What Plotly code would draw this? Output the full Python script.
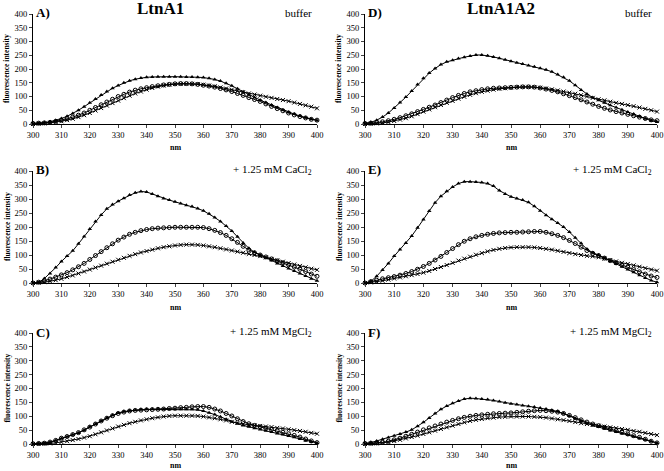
import plotly.graph_objects as go

wavelength = list(range(300, 401, 2))

# Panel A: LtnA1, buffer
A_tri = [2,3,5,8,13,20,28,38,50,63,77,91,105,118,130,140,150,157,163,167,170,171,172,172,172,172,172,171,171,170,169,166,162,156,148,139,128,117,106,96,87,78,69,60,51,43,36,29,23,17,13]
A_circ = [2,3,4,6,10,14,19,25,32,40,50,60,70,80,90,100,108,116,123,128,132,136,139,142,144,146,147,147,146,144,141,138,134,129,124,118,111,104,96,89,82,73,64,56,48,40,33,27,22,17,14]
A_x = [0,1,2,4,7,10,14,19,25,32,40,49,58,67,76,85,94,103,111,118,125,131,136,140,143,145,146,146,146,145,143,140,137,133,129,125,121,116,111,107,103,99,95,91,87,83,78,73,68,63,57]

# Panel B: LtnA1, + CaCl2
B_tri = [0,2,16,34,55,77,96,115,140,166,193,220,243,265,280,292,303,314,322,327,325,318,310,302,296,290,284,278,273,266,258,247,234,220,204,186,165,143,124,110,100,90,80,70,61,52,43,34,25,15,8]
B_circ = [0,3,8,14,21,29,37,47,58,70,84,98,112,126,140,153,164,174,181,187,191,194,196,197,198,199,199,199,199,199,198,194,188,180,170,158,145,131,118,108,100,93,86,79,72,65,57,49,41,32,24]
B_x = [0,1,3,6,10,15,21,27,34,41,48,55,62,69,76,83,90,97,103,109,114,119,124,128,131,134,136,137,137,136,134,131,128,124,120,116,112,108,104,100,96,91,86,81,76,71,66,61,56,51,47]

# Panel C: LtnA1, + MgCl2
C_tri = [1,2,3,6,12,20,26,33,40,50,62,72,83,94,104,112,117,120,122,124,125,125,125,125,125,125,125,125,125,123,119,113,106,98,89,80,73,67,62,57,52,48,43,38,34,29,24,18,12,7,4]
C_circ = [1,2,3,7,13,21,27,34,41,51,61,72,83,93,102,110,115,119,121,122,123,124,125,126,128,129,131,132,134,135,135,132,126,119,110,101,91,81,73,67,62,57,52,47,42,37,31,25,18,11,5]
C_x = [0,0,1,2,4,7,10,14,18,23,28,35,42,49,56,63,69,75,80,85,89,93,96,99,101,102,102,102,102,101,99,96,93,89,85,80,76,72,69,67,65,63,61,58,56,53,50,47,44,40,37]

# Panel D: LtnA1A2, buffer
D_tri = [3,6,14,25,40,58,78,98,120,144,166,185,202,216,226,232,238,243,247,251,251,248,244,239,234,228,223,218,213,208,203,197,190,180,170,157,141,124,109,96,86,77,68,60,52,44,36,27,19,12,7]
D_circ = [2,3,5,8,12,17,23,30,37,45,53,61,69,78,87,96,104,111,117,121,125,128,130,131,132,133,134,135,135,134,131,127,122,117,110,103,96,88,80,72,64,57,51,45,40,35,30,25,20,15,12]
D_x = [0,1,2,4,7,11,16,21,28,36,45,53,61,69,77,84,92,99,106,112,117,121,125,128,130,132,134,135,135,134,132,129,126,122,118,114,110,105,100,95,90,86,81,77,73,69,65,60,55,50,45]

# Panel E: LtnA1A2, + CaCl2
E_tri = [0,6,24,46,70,96,120,143,168,197,227,257,287,310,328,343,355,362,362,361,359,355,346,330,318,308,302,296,288,274,258,242,228,214,200,182,162,142,121,108,100,89,78,68,58,48,38,28,18,9,3]
E_circ = [0,5,10,15,19,23,28,34,41,49,59,70,82,95,109,123,137,149,158,165,170,174,177,179,180,181,181,182,183,184,184,181,176,170,162,152,141,128,116,106,98,89,80,72,64,56,48,40,32,25,20]
E_x = [0,2,5,8,12,16,20,24,28,32,37,43,50,57,64,72,80,87,94,101,107,113,118,122,125,127,128,128,128,127,125,122,119,115,111,107,103,100,97,95,92,87,82,77,72,68,63,58,53,48,44]

# Panel F: LtnA1A2, + MgCl2
F_tri = [2,5,11,17,23,30,36,43,51,64,78,94,110,125,137,147,155,162,165,164,162,160,157,153,149,145,142,139,136,133,130,126,122,117,110,101,92,83,74,67,61,55,49,43,38,33,27,21,15,9,4]
F_circ = [2,3,4,6,10,15,21,28,35,43,51,58,65,72,79,85,91,96,100,103,105,107,109,110,111,112,114,116,118,120,121,120,118,115,110,103,95,87,79,72,66,60,54,48,42,36,30,24,17,10,4]
F_x = [0,1,2,4,7,11,15,20,25,30,36,42,48,54,60,66,72,78,83,87,90,93,95,97,98,99,99,99,99,98,97,95,92,89,86,83,79,75,72,69,66,63,60,57,54,51,47,44,40,36,32]

x_ticks = [300, 310, 320, 330, 340, 350, 360, 370, 380, 390, 400]
y_ticks = [0, 50, 100, 150, 200, 250, 300, 350, 400]

panels = [
    ("A)", "buffer", A_tri, A_circ, A_x),
    ("B)", "+ 1.25 mM CaCl<sub>2</sub>", B_tri, B_circ, B_x),
    ("C)", "+ 1.25 mM MgCl<sub>2</sub>", C_tri, C_circ, C_x),
    ("D)", "buffer", D_tri, D_circ, D_x),
    ("E)", "+ 1.25 mM CaCl<sub>2</sub>", E_tri, E_circ, E_x),
    ("F)", "+ 1.25 mM MgCl<sub>2</sub>", F_tri, F_circ, F_x),
]

W, H = 664, 471
col_px = [(33, 317), (365, 657)]
row_px = [(14, 124), (171, 283), (333, 444)]
nm_offset = [24, 24, 21]
FONT = "Liberation Serif"

fig = go.Figure()
layout = dict(width=W, height=H, margin=dict(l=0, r=0, t=0, b=0, autoexpand=False),
              plot_bgcolor="white", paper_bgcolor="white", showlegend=False,
              font=dict(family=FONT, color="black"))
annotations = []

for i, (letter, cond, tri, circ, xs) in enumerate(panels):
    col = i // 3
    row = i % 3
    n = i + 1
    xa = "xaxis" if n == 1 else f"xaxis{n}"
    ya = "yaxis" if n == 1 else f"yaxis{n}"
    xref = "x" if n == 1 else f"x{n}"
    yref = "y" if n == 1 else f"y{n}"
    x0, x1 = col_px[col]
    y0, y1 = row_px[row]
    layout[xa] = dict(domain=[x0 / W, x1 / W], anchor=yref, range=[300, 400],
                      tickvals=x_ticks, ticks="outside", ticklen=3, tickwidth=1,
                      showline=True, linecolor="black", linewidth=1, showgrid=False,
                      zeroline=False, tickfont=dict(size=8.5, family=FONT), automargin=False)
    layout[ya] = dict(domain=[1 - y1 / H, 1 - y0 / H], anchor=xref, range=[0, 400],
                      tickvals=y_ticks, ticks="outside", ticklen=3, tickwidth=1,
                      showline=True, linecolor="black", linewidth=1, showgrid=False,
                      zeroline=False, tickfont=dict(size=8.5, family=FONT), automargin=False)
    series = [
        (tri, dict(symbol="triangle-up", size=4, color="black")),
        (circ, dict(symbol="circle-open", size=4, color="black", line=dict(width=1, color="black"))),
        (xs, dict(symbol="x-thin-open", size=4, color="black", line=dict(width=1, color="black"))),
    ]
    for vals, mk in series:
        fig.add_trace(go.Scatter(x=wavelength, y=vals, mode="lines+markers",
                                 line=dict(color="black", width=1), marker=mk,
                                 cliponaxis=False, xaxis=xref, yaxis=yref))
    # axis titles as annotations
    annotations.append(dict(text="<b>nm</b>", x=(x0 + x1) / 2 / W, y=1 - (y1 + nm_offset[row]) / H,
                            xref="paper", yref="paper", xanchor="center", yanchor="middle",
                            showarrow=False, font=dict(size=8, family=FONT)))
    annotations.append(dict(text="<b>fluorescence intensity</b>", x=7 / W + (col * 332) / W,
                            y=1 - (y0 + y1) / 2 / H, xref="paper", yref="paper",
                            xanchor="center", yanchor="middle", textangle=-90,
                            showarrow=False, font=dict(size=7.5, family=FONT)))
    annotations.append(dict(text=f"<b>{letter}</b>", x=(x0 + 1) / W, y=1 - (y0 - 1) / H,
                            xref="paper", yref="paper", xanchor="left", yanchor="middle",
                            showarrow=False, font=dict(size=13, family=FONT)))
    annotations.append(dict(text=cond, x=(x1 - 3) / W, y=1 - (y0 - 1) / H,
                            xref="paper", yref="paper", xanchor="right", yanchor="middle",
                            showarrow=False, font=dict(size=11, family=FONT)))

annotations.append(dict(text="<b>LtnA1</b>", x=160 / W, y=1 - 9 / H, xref="paper", yref="paper",
                        xanchor="center", yanchor="middle", showarrow=False,
                        font=dict(size=17, family=FONT)))
annotations.append(dict(text="<b>LtnA1A2</b>", x=501 / W, y=1 - 9 / H, xref="paper", yref="paper",
                        xanchor="center", yanchor="middle", showarrow=False,
                        font=dict(size=17, family=FONT)))
layout["annotations"] = annotations
fig.update_layout(**layout)
fig.write_html("out.html", config={"displayModeBar": False},
               post_script="document.body.style.margin='0';")
